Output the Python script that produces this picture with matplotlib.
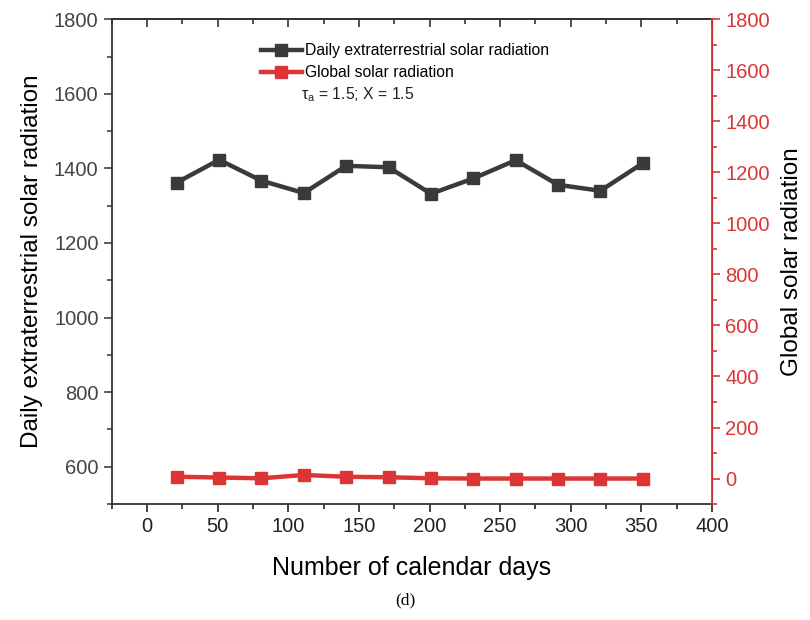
import matplotlib.pyplot as plt
from matplotlib.ticker import MultipleLocator

plt.rcParams['font.family'] = ['Liberation Sans', 'DejaVu Sans']
plt.rcParams['mathtext.fontset'] = 'custom'
plt.rcParams['mathtext.rm'] = 'Liberation Sans'

# data
days = [21, 51, 81, 111, 141, 171, 201, 231, 261, 291, 321, 351]
extraterrestrial = [1362, 1423, 1367, 1334, 1407, 1403, 1332, 1373, 1422, 1356, 1340, 1414]
global_rad = [7, 4, 1, 14, 7, 5, 1, 0, 0, 0, 0, 0]

BLACK = '#3a3a3a'
RED = '#dc3535'

fig = plt.figure(figsize=(8.1, 6.2), dpi=100)
ax = fig.add_axes([0.138, 0.187, 0.741, 0.782])
ax2 = ax.twinx()

l1, = ax.plot(days, extraterrestrial, color=BLACK, lw=3.2, marker='s', ms=8,
              label='Daily extraterrestrial solar radiation')
l2, = ax2.plot(days, global_rad, color=RED, lw=3.2, marker='s', ms=8,
               label='Global solar radiation')

ax.set_xlim(-25, 400)
ax.set_ylim(500, 1800)
ax2.set_ylim(-100, 1800)

ax.xaxis.set_major_locator(MultipleLocator(50))
ax.xaxis.set_minor_locator(MultipleLocator(25))
ax.yaxis.set_major_locator(MultipleLocator(200))
ax.yaxis.set_minor_locator(MultipleLocator(100))
ax2.yaxis.set_major_locator(MultipleLocator(200))
ax2.yaxis.set_minor_locator(MultipleLocator(100))

ax.tick_params(axis='x', which='both', direction='out', labelsize=14.5, colors='#222222')
ax.tick_params(axis='y', which='both', direction='out', labelsize=14.5, colors='#444444')
ax.tick_params(which='major', length=6, width=1.2)
ax.tick_params(which='minor', length=3.5, width=1.2)
ax2.tick_params(axis='y', which='both', direction='out', colors=RED, labelsize=14.5, width=1.2)
ax2.tick_params(which='major', length=6)
ax2.tick_params(which='minor', length=3.5)

# top ticks point inward
top = ax.secondary_xaxis('top')
top.xaxis.set_major_locator(MultipleLocator(50))
top.xaxis.set_minor_locator(MultipleLocator(25))
top.tick_params(which='both', direction='in', labeltop=False, width=1.2, color='#333333')
top.tick_params(which='major', length=6)
top.tick_params(which='minor', length=3.5)
top.spines['top'].set_color('#333333')
top.spines['top'].set_linewidth(1.3)

for s in ['left', 'bottom', 'top']:
    ax.spines[s].set_color('#333333')
    ax.spines[s].set_linewidth(1.3)
ax2.spines['right'].set_color(RED)
ax2.spines['right'].set_linewidth(1.3)
for s in ['left', 'bottom', 'top']:
    ax2.spines[s].set_visible(False)

ax.set_xlabel('Number of calendar days', fontsize=18, labelpad=14)
ax.set_ylabel('Daily extraterrestrial solar radiation', fontsize=17.5, labelpad=8)
ax2.set_ylabel('Global solar radiation', fontsize=17.5, labelpad=8)

ax.legend(handles=[l1, l2], loc='upper left', bbox_to_anchor=(0.238, 0.963),
          frameon=False, fontsize=11.3, handlelength=2.6, handletextpad=0.2,
          labelspacing=0.45, borderaxespad=0)
ax.text(0.315, 0.845, 'τ$_\\mathregular{a}$ = 1.5; X = 1.5', transform=ax.transAxes,
        fontsize=11.3, ha='left', va='center', color='#222222')

fig.text(0.5, 0.032, '(d)', fontsize=12.5, ha='center', va='center',
         family=['Liberation Serif', 'DejaVu Serif'])

fig.savefig('out.png', dpi=100)
